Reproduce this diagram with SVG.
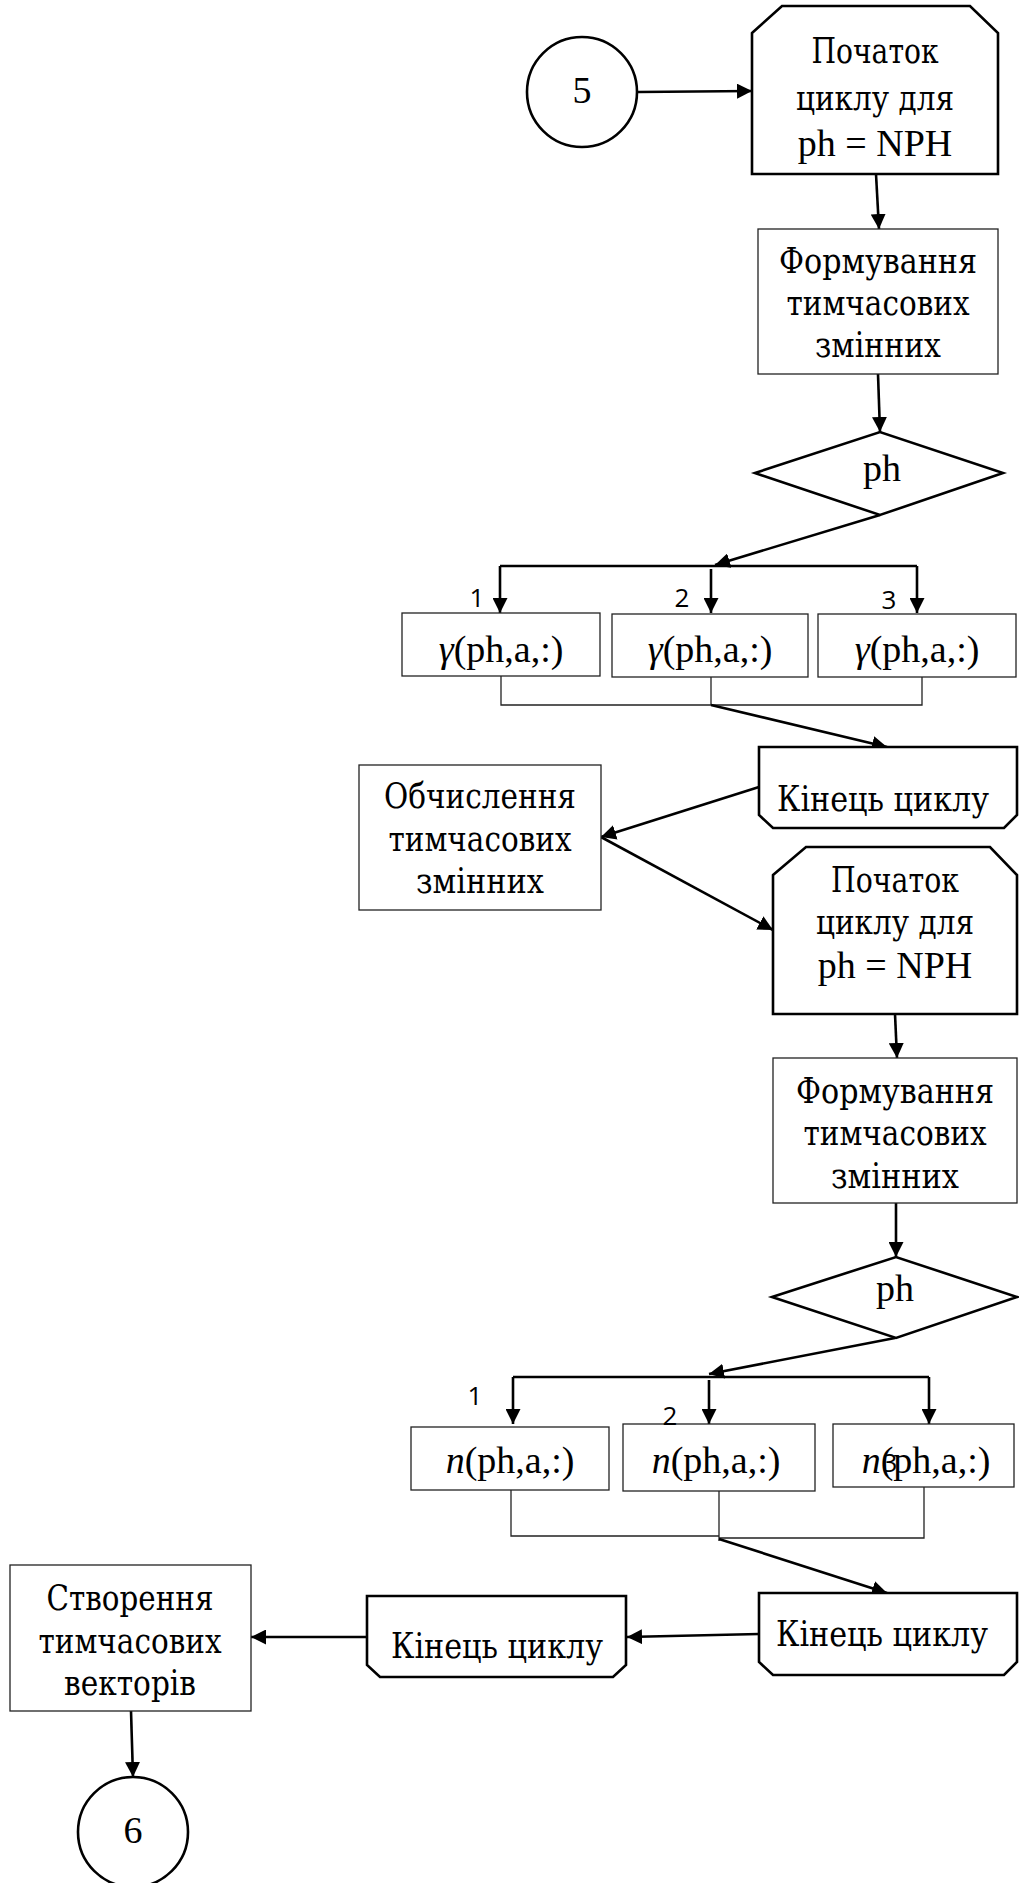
<svg xmlns="http://www.w3.org/2000/svg" width="1019" height="1883" viewBox="0 0 1019 1883">
  <style>
    .t { font-family: "Liberation Serif", "Times New Roman", serif; font-size: 38px; text-anchor: middle; fill: #000; }
    .c { font-family: "DejaVu Serif", serif; font-size: 36px; text-anchor: middle; fill: #000; }
    .it { font-style: italic; }
    .lbl { font-family: "Open Sans", "Liberation Sans", sans-serif; font-size: 26px; text-anchor: middle; fill: #000; }
    .thin { fill: #fff; stroke: #222; stroke-width: 1.3; }
    .bold { fill: #fff; stroke: #000; stroke-width: 2.6; stroke-linejoin: miter; }
    .conn { fill: none; stroke: #000; stroke-width: 2.6; }
    .arr { marker-end: url(#ah); }
    .join { fill: none; stroke: #222; stroke-width: 1.3; }
  </style>
  <defs>
    <marker id="ah" markerUnits="userSpaceOnUse" markerWidth="15" markerHeight="15" refX="15" refY="7.5" orient="auto">
      <path d="M0,0 L15,7.5 L0,15 Z" fill="#000"/>
    </marker>
  </defs>
  <rect width="1019" height="1883" fill="#fff"/>

  <!-- connectors -->
  <g id="connectors">
    <path class="conn arr" d="M638,92 L752,91"/>
    <path class="conn arr" d="M876,174 L879,229"/>
    <path class="conn arr" d="M878,374 L880,432"/>
    <path class="conn arr" d="M880,515 L715,565"/>
    <path class="conn" d="M500,566 L917,566"/>
    <path class="conn arr" d="M500,566 L500,613"/>
    <path class="conn arr" d="M711,569 L711,613"/>
    <path class="conn arr" d="M917,566 L917,613"/>
    <path class="join" d="M501,676 L501,705 L922,705 L922,677 M711,676 L711,705"/>
    <path class="conn arr" d="M711,705 L887,747"/>
    <path class="conn arr" d="M759,787 L601,837"/>
    <path class="conn arr" d="M601,837 L773,930"/>
    <path class="conn arr" d="M895,1014 L897,1058"/>
    <path class="conn arr" d="M896,1203 L896,1257"/>
    <path class="conn arr" d="M895,1338 L709,1374"/>
    <path class="conn" d="M513,1377 L929,1377"/>
    <path class="conn arr" d="M513,1377 L513,1424"/>
    <path class="conn arr" d="M709,1380 L709,1424"/>
    <path class="conn arr" d="M929,1377 L929,1424"/>
    <path class="join" d="M511,1490 L511,1536 L719,1536 M719,1491 L719,1541 M719,1538 L924,1538 L924,1487"/>
    <path class="conn arr" d="M719,1539 L887,1593"/>
    <path class="conn arr" d="M759,1634 L627,1637"/>
    <path class="conn arr" d="M367,1637 L251,1637"/>
    <path class="conn arr" d="M131,1711 L133,1777"/>
  </g>

  <!-- connector 5 -->
  <g id="conn-in">
    <circle class="bold" cx="582" cy="92" r="55"/>
    <text class="t" x="582" y="103">5</text>
  </g>

  <!-- first loop -->
  <g id="loop1-start">
    <path class="bold" d="M752,33 L782,6 L970,6 L998,33 L998,174 L752,174 Z"/>
    <text class="c" x="875" y="63" textLength="127" lengthAdjust="spacingAndGlyphs">Початок</text>
    <text class="c" x="875" y="110" textLength="158" lengthAdjust="spacingAndGlyphs">циклу для</text>
    <text class="t" x="875" y="156">ph = NPH</text>
  </g>
  <g id="form1">
    <rect class="thin" x="758" y="229" width="240" height="145"/>
    <text class="c" x="878" y="273" textLength="198" lengthAdjust="spacingAndGlyphs">Формування</text>
    <text class="c" x="878" y="315" textLength="183" lengthAdjust="spacingAndGlyphs">тимчасових</text>
    <text class="c" x="878" y="357" textLength="126" lengthAdjust="spacingAndGlyphs">змінних</text>
  </g>
  <g id="switch1">
    <path class="bold" d="M755,473 L880,432 L1003,473 L880,515 Z"/>
    <text class="t" x="882" y="481">ph</text>
  </g>
  <g id="labels1">
    <text class="lbl" x="477" y="607">1</text>
    <text class="lbl" x="682" y="607">2</text>
    <text class="lbl" x="889" y="609">3</text>
  </g>
  <g id="gamma1">
    <rect class="thin" x="402" y="613" width="198" height="63"/>
    <text class="t" x="501" y="662"><tspan class="it">γ</tspan>(ph,a,:)</text>
  </g>
  <g id="gamma2">
    <rect class="thin" x="612" y="614" width="196" height="63"/>
    <text class="t" x="710" y="662"><tspan class="it">γ</tspan>(ph,a,:)</text>
  </g>
  <g id="gamma3">
    <rect class="thin" x="818" y="614" width="198" height="63"/>
    <text class="t" x="917" y="662"><tspan class="it">γ</tspan>(ph,a,:)</text>
  </g>
  <g id="loop1-end">
    <path class="bold" d="M759,747 L1017,747 L1017,815 L1004,828 L773,828 L759,815 Z"/>
    <text class="c" x="883" y="811" textLength="212" lengthAdjust="spacingAndGlyphs">Кінець циклу</text>
  </g>

  <g id="calc">
    <rect class="thin" x="359" y="765" width="242" height="145"/>
    <text class="c" x="480" y="808" textLength="192" lengthAdjust="spacingAndGlyphs">Обчислення</text>
    <text class="c" x="480" y="851" textLength="183" lengthAdjust="spacingAndGlyphs">тимчасових</text>
    <text class="c" x="480" y="893" textLength="128" lengthAdjust="spacingAndGlyphs">змінних</text>
  </g>

  <!-- second loop -->
  <g id="loop2-start">
    <path class="bold" d="M773,875 L806,847 L990,847 L1017,875 L1017,1014 L773,1014 Z"/>
    <text class="c" x="895" y="892" textLength="128" lengthAdjust="spacingAndGlyphs">Початок</text>
    <text class="c" x="895" y="934" textLength="158" lengthAdjust="spacingAndGlyphs">циклу для</text>
    <text class="t" x="895" y="978">ph = NPH</text>
  </g>
  <g id="form2">
    <rect class="thin" x="773" y="1058" width="244" height="145"/>
    <text class="c" x="895" y="1103" textLength="198" lengthAdjust="spacingAndGlyphs">Формування</text>
    <text class="c" x="895" y="1145" textLength="183" lengthAdjust="spacingAndGlyphs">тимчасових</text>
    <text class="c" x="895" y="1188" textLength="128" lengthAdjust="spacingAndGlyphs">змінних</text>
  </g>
  <g id="switch2">
    <path class="bold" d="M772,1297 L896,1257 L1017,1297 L896,1338 Z"/>
    <text class="t" x="895" y="1301">ph</text>
  </g>
  <g id="n1">
    <rect class="thin" x="411" y="1427" width="198" height="63"/>
    <text class="t" x="510" y="1473"><tspan class="it">n</tspan>(ph,a,:)</text>
  </g>
  <g id="n2">
    <rect class="thin" x="623" y="1424" width="192" height="67"/>
    <text class="t" x="716" y="1473"><tspan class="it">n</tspan>(ph,a,:)</text>
  </g>
  <g id="n3">
    <rect class="thin" x="833" y="1424" width="181" height="63"/>
    <text class="t" x="926" y="1473"><tspan class="it">n</tspan>(ph,a,:)</text>
  </g>
  <g id="labels2">
    <text class="lbl" x="475" y="1405">1</text>
    <text class="lbl" x="670" y="1425">2</text>
    <text class="lbl" x="890" y="1472">3</text>
  </g>
  <g id="loop2-end">
    <path class="bold" d="M759,1593 L1017,1593 L1017,1662 L1004,1675 L773,1675 L759,1662 Z"/>
    <text class="c" x="882" y="1646" textLength="212" lengthAdjust="spacingAndGlyphs">Кінець циклу</text>
  </g>
  <g id="loop-outer-end">
    <path class="bold" d="M367,1596 L626,1596 L626,1665 L613,1677 L380,1677 L367,1665 Z"/>
    <text class="c" x="497" y="1658" textLength="212" lengthAdjust="spacingAndGlyphs">Кінець циклу</text>
  </g>
  <g id="vectors">
    <rect class="thin" x="10" y="1565" width="241" height="146"/>
    <text class="c" x="130" y="1610" textLength="167" lengthAdjust="spacingAndGlyphs">Створення</text>
    <text class="c" x="130" y="1653" textLength="183" lengthAdjust="spacingAndGlyphs">тимчасових</text>
    <text class="c" x="130" y="1695" textLength="132" lengthAdjust="spacingAndGlyphs">векторів</text>
  </g>

  <!-- connector 6 -->
  <g id="conn-out">
    <circle class="bold" cx="133" cy="1832" r="55"/>
    <text class="t" x="133" y="1843">6</text>
  </g>
</svg>
